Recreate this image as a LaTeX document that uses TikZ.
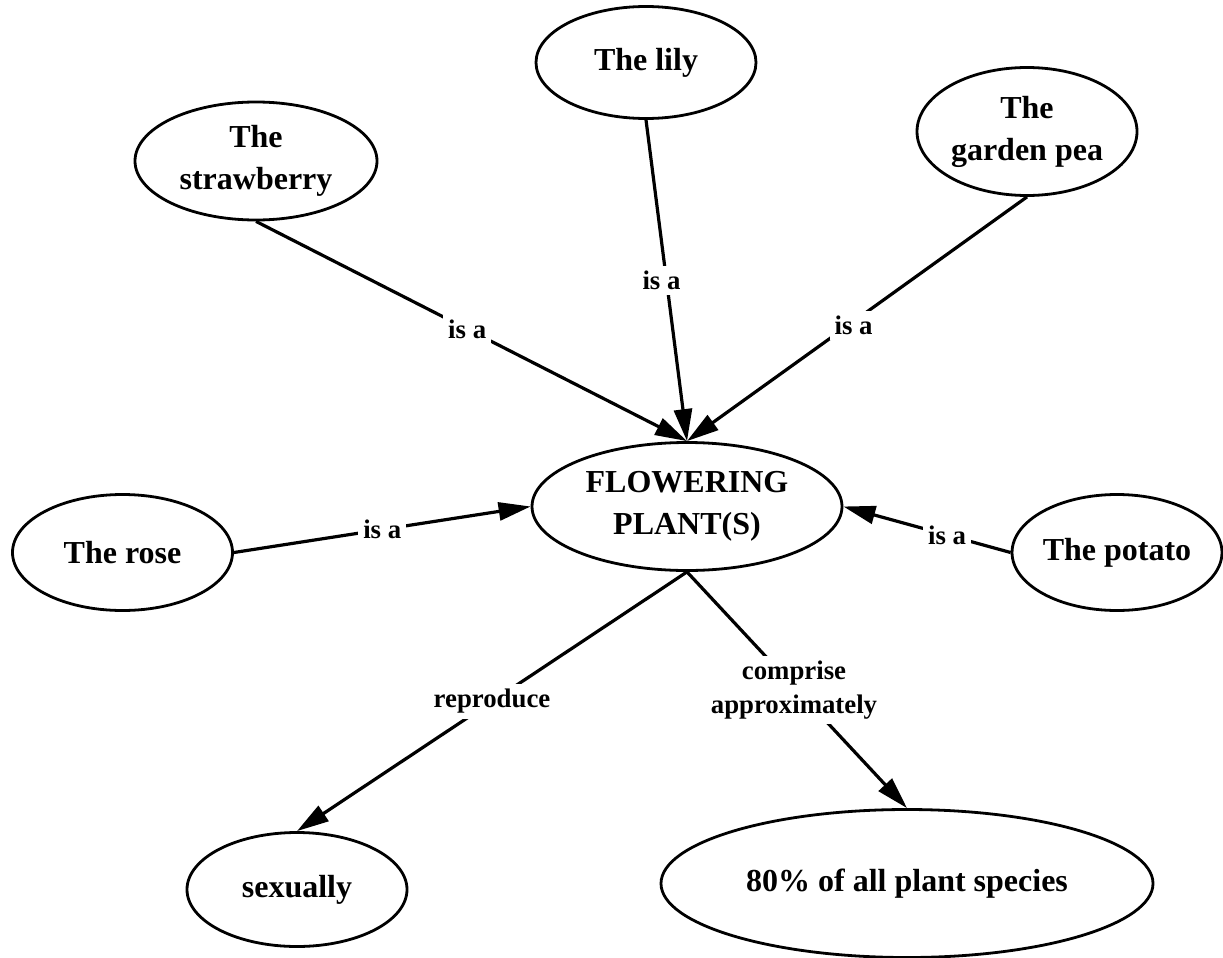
\documentclass[tikz,border=0pt]{standalone}
\usepackage{fontspec}
\setmainfont{Liberation Serif}
\usetikzlibrary{shapes.geometric,arrows.meta}
\begin{document}
\begin{tikzpicture}[x=1pt,y=-1pt,
  concept/.style={draw, ellipse, line width=2.8pt, inner sep=0pt, align=center,
    font=\fontsize{32}{42}\selectfont\bfseries},
  link/.style={line width=3.2pt, -{Triangle[length=32pt,width=18pt]}},
  lbl/.style={fill=white, inner sep=5pt, align=center,
    font=\fontsize{26.8}{34}\selectfont\bfseries}]
\useasboundingbox (0,0) rectangle (1223,958);

% concepts
\node[concept, minimum width=220pt, minimum height=112pt] (lily) at (646,62.5) {The lily};
\node[concept, minimum width=242pt, minimum height=118pt] (straw) at (256,161) {The\\strawberry};
\node[concept, minimum width=220pt, minimum height=128pt] (pea) at (1027,131.5) {The\\garden pea};
\node[concept, minimum width=310pt, minimum height=128pt] (flower) at (687,506.5) {FLOWERING\\PLANT(S)};
\node[concept, minimum width=220pt, minimum height=116pt] (rose) at (122.5,552.5) {The rose};
\node[concept, minimum width=208pt, minimum height=116pt] (potato) at (1117,552.5) {The potato};
\node[concept, minimum width=220pt, minimum height=114pt] (sex) at (297,889.5) {sexually};
\node[concept, minimum width=492pt, minimum height=148pt] (pct) at (907,883.5) {80\% of all plant species};

% links
\draw[link] (straw.south) -- (flower.north) node[lbl, pos=.49] (l1) {is a};
\draw[link] (lily.south) -- (flower.north) node[lbl, pos=.5, xshift=-5pt] (l2) {is a};
\draw[link] (pea.south) -- (flower.north) node[lbl, pos=.51, yshift=-4pt] (l3) {is a};
\draw[link] (rose.east) -- (flower.west) node[lbl, pos=.5] (l4) {is a};
\draw[link] (potato.west) -- (flower.east) node[lbl, pos=.38] (l5) {is a};
\draw[link] (flower.south) -- (sex.north) node[lbl, pos=.5] (l6) {reproduce};
\draw[link] (flower.south) -- (pct.north) node[lbl, pos=.5, xshift=-3pt] (l7) {comprise\\approximately};
\end{tikzpicture}
\end{document}
